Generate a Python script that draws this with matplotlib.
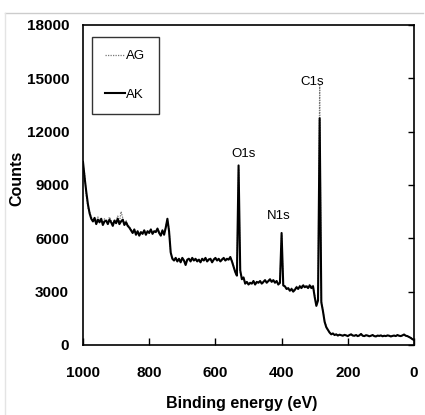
import numpy as np
import matplotlib
matplotlib.use("Agg")
import matplotlib.pyplot as plt
from matplotlib.lines import Line2D

# survey spectra, counts read every 5 eV from 1000 eV down to 0 eV
ak_counts = [
    10300, 9400, 8600, 7900, 7400, 7100, 6950, 7150, 6800, 7050,
    6900, 7100, 6750, 6950, 7000, 6800, 7050, 6900, 6700, 7000,
    6850, 7100, 6800, 6950, 7050, 6750, 6900, 6700, 6600, 6450,
    6300, 6500, 6200, 6400, 6150, 6350, 6250, 6450, 6200, 6400,
    6300, 6500, 6250, 6400, 6350, 6550, 6300, 6150, 6450, 6200,
    6600, 7100, 6400, 5200, 4850, 4750, 4900, 4700, 4850, 4650,
    4900, 4750, 4500, 4800, 4850, 4700, 4900, 4750, 4850, 4700,
    4800, 4650, 4850, 4750, 4900, 4700, 4800, 4850, 4650, 4800,
    4900, 4750, 4850, 4700, 4800, 4900, 4750, 4850, 4800, 4950,
    4700, 4400, 4100, 3900, 10100, 4200, 3700, 3800, 3450, 3550,
    3400, 3500, 3450, 3600, 3400, 3550, 3500, 3600, 3450, 3550,
    3650, 3500, 3600, 3700, 3550, 3650, 3500, 3600, 3400, 3500,
    6300, 3350, 3300, 3150, 3200, 3050, 3150, 3000, 3100, 3250,
    3150, 3300, 3200, 3350, 3250, 3300, 3200, 3350, 3200, 3300,
    2700, 2200, 2500, 12750, 2400, 1900, 1300, 1000, 850, 700,
    600, 650, 560, 600, 530, 580, 550, 520, 570, 540,
    500, 560, 600, 530, 520, 560, 500, 540, 620, 520,
    500, 550, 530, 490, 520, 560, 500, 480, 530, 510,
    540, 490, 520, 500, 540, 520, 480, 510, 530, 500,
    560, 520, 500, 540, 590, 520, 500, 450, 400, 330,
    280,
]
ag_counts = [
    10100, 9600, 8400, 7700, 7500, 7200, 7050, 7000, 6900, 7200,
    7000, 6950, 6850, 7100, 6900, 6950, 7200, 7000, 6850, 6950,
    7000, 7250, 6900, 7500, 7150, 6850, 7000, 6800, 6650, 6500,
    6400, 6400, 6300, 6350, 6250, 6300, 6350, 6400, 6300, 6350,
    6400, 6450, 6350, 6350, 6450, 6500, 6400, 6250, 6400, 6300,
    6700, 7000, 6500, 5100, 4900, 4800, 4850, 4750, 4800, 4700,
    4850, 4800, 4600, 4750, 4900, 4750, 4850, 4800, 4800, 4750,
    4850, 4700, 4800, 4800, 4850, 4750, 4850, 4800, 4700, 4850,
    4850, 4800, 4800, 4750, 4850, 4850, 4800, 4800, 4850, 4900,
    4750, 4450, 4150, 4000, 9900, 4100, 3750, 3750, 3500, 3500,
    3450, 3450, 3500, 3550, 3450, 3500, 3550, 3550, 3500, 3500,
    3600, 3550, 3550, 3650, 3600, 3600, 3550, 3550, 3450, 3450,
    6200, 3400, 3250, 3200, 3150, 3100, 3200, 3100, 3150, 3300,
    3200, 3350, 3300, 3400, 3300, 3350, 3300, 3400, 3300, 3350,
    2800, 2300, 2600, 14600, 2500, 1950, 1350, 1050, 800, 700,
    620, 630, 580, 590, 550, 570, 560, 540, 560, 550,
    520, 550, 580, 540, 530, 550, 510, 530, 600, 530,
    510, 540, 520, 500, 530, 550, 510, 490, 520, 520,
    530, 500, 510, 510, 530, 530, 490, 520, 520, 510,
    550, 530, 510, 530, 570, 530, 510, 460, 410, 340,
    290,
]
energy_ak = np.linspace(1000, 0, len(ak_counts))
energy_ag = np.linspace(1000, 0, len(ag_counts))

peak_names = ["O1s", "N1s", "C1s"]
peak_x = [514, 408, 308]
peak_y = [10750, 7250, 14800]

y_ticks = [0, 3000, 6000, 9000, 12000, 15000, 18000]
x_ticks = [1000, 800, 600, 400, 200, 0]

plt.rcParams['font.family'] = ['Liberation Sans', 'DejaVu Sans']

fig = plt.figure(figsize=(4.25, 4.15), dpi=100)
ax = fig.add_axes([0.1953, 0.1687, 0.7788, 0.7711])

ax.plot(energy_ag, ag_counts, color='#777777', lw=0.9, ls=(0, (1, 1)), label='AG', zorder=2)
ax.plot(energy_ak, ak_counts, color='black', lw=1.5, label='AK', zorder=3)

for name, px, py in zip(peak_names, peak_x, peak_y):
    ax.text(px, py, name, fontsize=9.5, ha='center', va='center')

ax.set_xlim(1000, 0)
ax.set_ylim(0, 18000)
ax.set_xticks(x_ticks)
ax.set_yticks(y_ticks)
ax.set_xticklabels([str(t) for t in x_ticks], fontsize=11, fontweight='bold')
ax.set_yticklabels([str(t) for t in y_ticks], fontsize=11, fontweight='bold')
ax.tick_params(axis='x', direction='in', length=5, width=1, pad=15)
ax.tick_params(axis='y', left=False, right=True, direction='in', length=4, width=1, pad=10)
for s in ax.spines.values():
    s.set_linewidth(1.2)

ax.set_xlabel('Binding energy (eV)', fontsize=11.5, fontweight='bold')
ax.xaxis.set_label_coords(0.48, -0.16)
ax.set_ylabel('Counts', fontsize=11.5, fontweight='bold')
ax.yaxis.set_label_coords(-0.176, 0.52)

leg = ax.legend(loc='upper left', bbox_to_anchor=(0.027, 0.9625), fontsize=9.5,
                frameon=True, fancybox=False, edgecolor='black', handlelength=1.5,
                handletextpad=0.1, labelspacing=2.0, borderpad=1.0, borderaxespad=0)
leg.get_frame().set_linewidth(1.0)

# faint page border lines around the figure
fig.add_artist(Line2D([0.012, 0.995], [0.969, 0.969], color='#cccccc', lw=1))
fig.add_artist(Line2D([0.012, 0.012], [0.0, 0.969], color='#e4e4e4', lw=1))

fig.savefig('out.png', dpi=100)
